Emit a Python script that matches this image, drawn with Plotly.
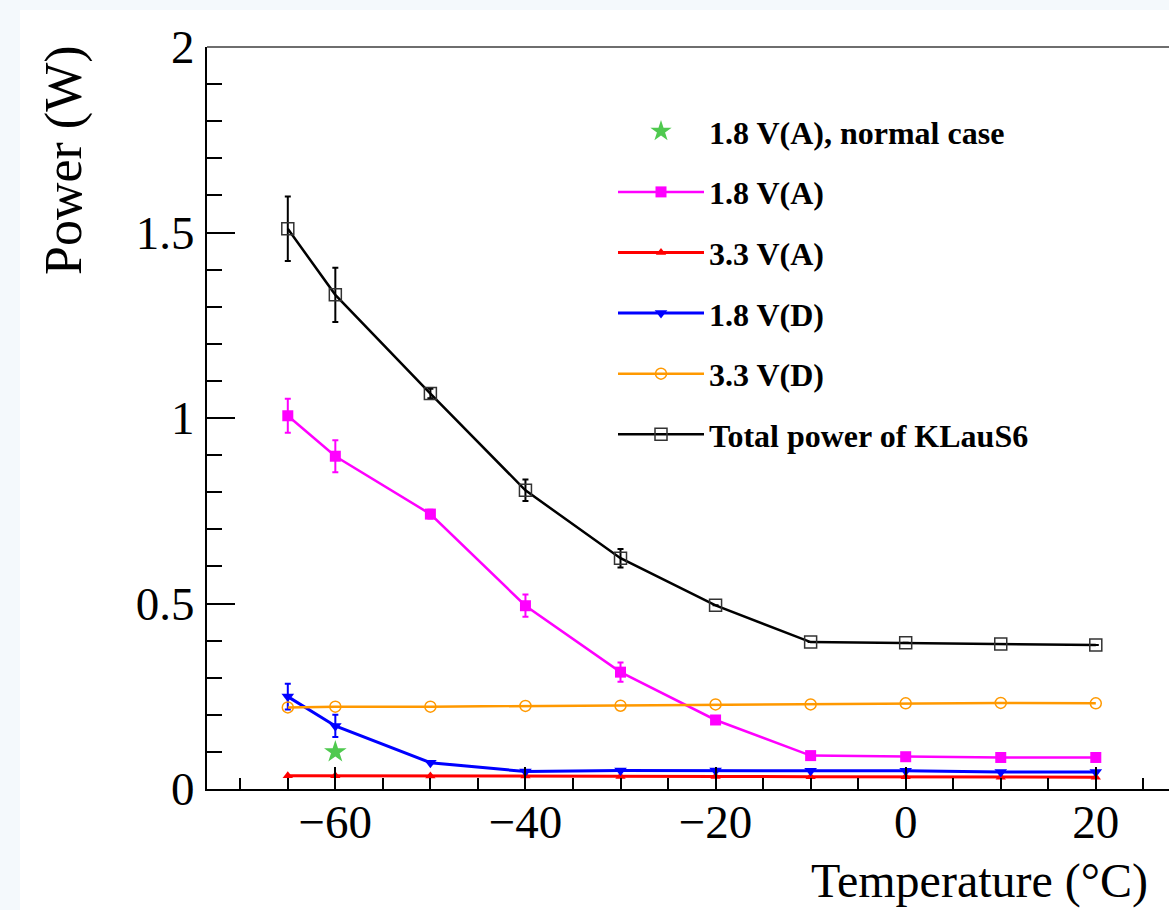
import plotly.graph_objects as go

# ---- data ----
temps = [-65, -60, -50, -40, -30, -20, -10, 0, 10, 20]

p18A = [1.006, 0.897, 0.741, 0.494, 0.315, 0.186, 0.090, 0.087, 0.085, 0.085]
p18A_err = [0.046, 0.043, 0.012, 0.030, 0.026, 0.0, 0.0, 0.0, 0.0, 0.0]

p33A = [0.036, 0.036, 0.035, 0.035, 0.034, 0.034, 0.033, 0.033, 0.032, 0.032]

p18D = [0.249, 0.170, 0.071, 0.047, 0.050, 0.050, 0.049, 0.049, 0.046, 0.046]
p18D_err = [0.035, 0.030, 0.0, 0.0, 0.0, 0.0, 0.0, 0.0, 0.0, 0.0]

p33D = [0.220, 0.222, 0.222, 0.224, 0.2245, 0.228, 0.228, 0.231, 0.232, 0.231]

total = [1.510, 1.332, 1.066, 0.805, 0.622, 0.495, 0.396, 0.394, 0.391, 0.388]
total_err = [0.087, 0.073, 0.013, 0.029, 0.025, 0.0, 0.0, 0.0, 0.0, 0.0]

normal_T = [-60]
normal_P = [0.10]

names = ["1.8 V(A), normal case", "1.8 V(A)", "3.3 V(A)", "1.8 V(D)", "3.3 V(D)",
         "Total power of KLauS6"]

x_range = [-73.5, 27.7]
y_range = [0, 2]

# ---- figure ----
W, H = 1169, 910
ML, MR, MT, MB = 207, 0, 47, 121
PW, PH = W - ML - MR, H - MT - MB


def px_x(p):
    return (p - ML) / PW


def px_y(p):
    return (H - MB - p) / PH


fig = go.Figure()

fig.add_trace(go.Scatter(
    x=normal_T, y=normal_P, mode="markers", name=names[0], legendgroup="g0",
    marker=dict(symbol="star", size=17, color="#4fc94f", line=dict(width=0)),
))
fig.add_trace(go.Scatter(
    x=temps, y=p18A, mode="lines+markers", name=names[1], legendgroup="g1",
    line=dict(color="#ff00ff", width=2.5),
    marker=dict(symbol="square", size=11, color="#ff00ff"),
    error_y=dict(type="data", array=p18A_err, color="#ff00ff", thickness=2, width=3),
))
fig.add_trace(go.Scatter(
    x=temps, y=p33A, mode="lines+markers", name=names[2], legendgroup="g2",
    line=dict(color="#ff0000", width=3),
    marker=dict(symbol="triangle-up", size=9, color="#ff0000"),
))
fig.add_trace(go.Scatter(
    x=temps, y=p18D, mode="lines+markers", name=names[3], legendgroup="g3",
    line=dict(color="#0000ff", width=3),
    marker=dict(symbol="triangle-down", size=11, color="#0000ff"),
    error_y=dict(type="data", array=p18D_err, color="#0000ff", thickness=2, width=3),
))
fig.add_trace(go.Scatter(
    x=temps, y=p33D, mode="lines+markers", name=names[4], legendgroup="g4",
    line=dict(color="#ff9900", width=2.5),
    marker=dict(symbol="circle-open", size=11, color="#ff9900", line=dict(width=1.5)),
))
fig.add_trace(go.Scatter(
    x=temps, y=total, mode="lines+markers", name=names[5], legendgroup="g5",
    line=dict(color="#000000", width=2.5),
    marker=dict(symbol="square-open", size=12, color="#333333", line=dict(width=1.5)),
    error_y=dict(type="data", array=total_err, color="#000000", thickness=2, width=3),
))

serif = "Liberation Serif, Times New Roman, serif"
axis_font = dict(family=serif, size=47, color="black")

fig.update_layout(
    width=W, height=H,
    margin=dict(l=ML, r=MR, t=MT, b=MB, autoexpand=False),
    paper_bgcolor="#f4f9fc",
    plot_bgcolor="white",
    showlegend=True,
    legend=dict(
        x=px_x(613), y=px_y(104),
        xanchor="left", yanchor="top",
        bgcolor="rgba(0,0,0,0)", borderwidth=0,
        font=dict(family=serif, size=32, color="black", weight="bold"),
        traceorder="grouped", tracegroupgap=16, itemwidth=86,
    ),
    xaxis=dict(
        range=x_range, showgrid=False, zeroline=False,
        showline=True, linecolor="black", linewidth=2,
        tickmode="linear", tick0=0, dtick=20,
        ticks="inside", ticklen=22, tickwidth=2, tickcolor="black",
        ticklabelstandoff=-9,
        tickfont=axis_font,
        minor=dict(dtick=5, tick0=0, ticks="inside", ticklen=11, tickwidth=2,
                   tickcolor="black", showgrid=False),
    ),
    yaxis=dict(
        range=y_range, showgrid=False, zeroline=False,
        showline=True, linecolor="black", linewidth=2,
        tickmode="linear", tick0=0, dtick=0.5,
        ticks="inside", ticklen=28, tickwidth=2, tickcolor="black",
        ticklabelstandoff=1,
        tickfont=axis_font,
        minor=dict(dtick=0.1, tick0=0, ticks="inside", ticklen=15, tickwidth=2,
                   tickcolor="black", showgrid=False),
    ),
    shapes=[
        # white page area
        dict(type="rect", xref="paper", yref="paper", layer="below",
             x0=px_x(20), x1=1.05, y0=-0.3, y1=px_y(10),
             fillcolor="white", line=dict(width=0)),
        # top frame line
        dict(type="line", xref="paper", yref="paper", x0=0, x1=1, y0=1, y1=1,
             line=dict(color="#6e6e6e", width=2)),
    ],
    annotations=[
        dict(text="Power (W)", textangle=-90, xref="paper", yref="paper",
             x=px_x(64), y=px_y(160),
             xanchor="center", yanchor="middle", showarrow=False,
             font=dict(family=serif, size=52, color="black")),
        dict(text="Temperature (°C)", xref="paper", yref="paper",
             x=px_x(809), y=px_y(881),
             xanchor="left", yanchor="middle", showarrow=False,
             font=dict(family=serif, size=48, color="black")),
    ],
)

fig.write_html(
    "out.html",
    config={"displayModeBar": False},
    post_script="document.body.style.margin='0';document.body.style.overflow='hidden';",
)
